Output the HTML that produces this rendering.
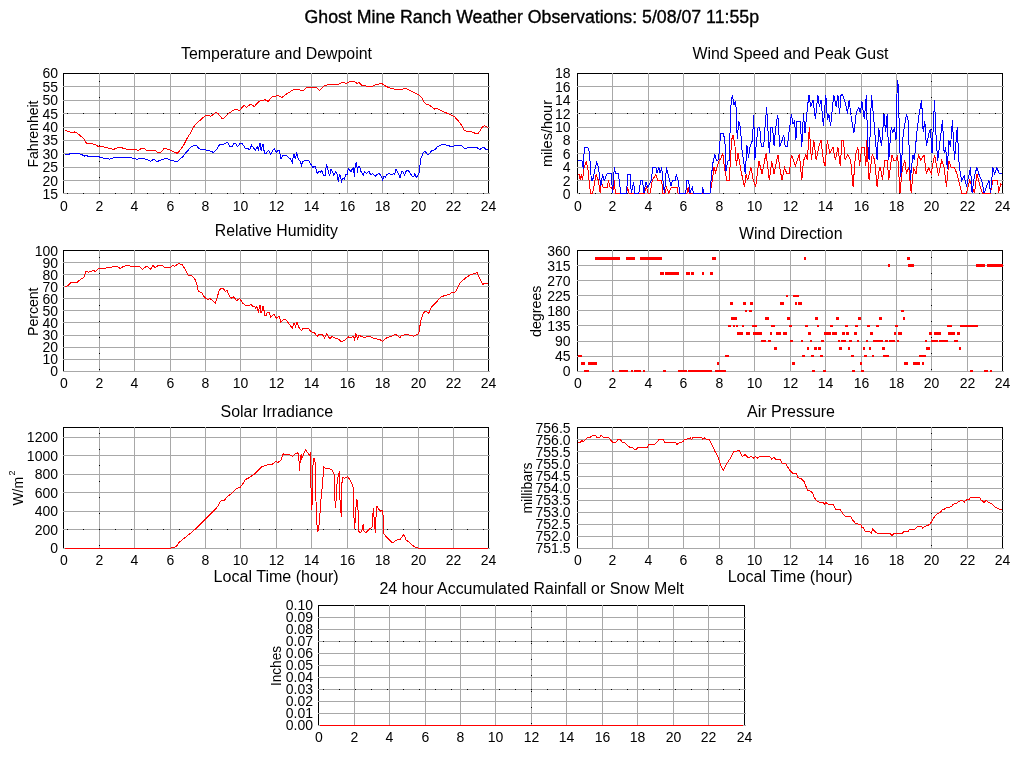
<!DOCTYPE html>
<html><head><meta charset="utf-8"><title>Ghost Mine Ranch Weather Observations</title>
<style>html,body{margin:0;padding:0;background:#fff;width:1024px;height:768px;overflow:hidden}svg{display:block}</style>
</head><body>
<svg width="1024" height="768" viewBox="0 0 1024 768" shape-rendering="crispEdges" font-family="'Liberation Sans', Arial, Helvetica, sans-serif" fill="#000">
<rect width="1024" height="768" fill="#fff"/>
<text x="304.5" y="23" font-size="18" text-anchor="start" textLength="454.5" lengthAdjust="spacingAndGlyphs" stroke="#000" stroke-width="0.35">Ghost Mine Ranch Weather Observations: 5/08/07 11:55p</text>
<text x="181" y="59" font-size="16" text-anchor="start" textLength="191" lengthAdjust="spacingAndGlyphs">Temperature and Dewpoint</text>
<text x="692.5" y="59" font-size="16" text-anchor="start" textLength="196" lengthAdjust="spacingAndGlyphs">Wind Speed and Peak Gust</text>
<text x="214.8" y="236" font-size="16" text-anchor="start" textLength="123" lengthAdjust="spacingAndGlyphs">Relative Humidity</text>
<text x="739" y="239" font-size="16" text-anchor="start" textLength="103.5" lengthAdjust="spacingAndGlyphs">Wind Direction</text>
<text x="220.5" y="417" font-size="16" text-anchor="start" textLength="112.5" lengthAdjust="spacingAndGlyphs">Solar Irradiance</text>
<text x="747" y="417" font-size="16" text-anchor="start" textLength="88" lengthAdjust="spacingAndGlyphs">Air Pressure</text>
<text x="379.5" y="594" font-size="16" text-anchor="start" textLength="304.5" lengthAdjust="spacingAndGlyphs">24 hour Accumulated Rainfall or Snow Melt</text>
<text x="213.6" y="582" font-size="16" text-anchor="start" textLength="125" lengthAdjust="spacingAndGlyphs">Local Time (hour)</text>
<text x="727.7" y="582" font-size="16" text-anchor="start" textLength="125" lengthAdjust="spacingAndGlyphs">Local Time (hour)</text>
<text transform="translate(37.5,167.5) rotate(-90)" font-size="14" textLength="67" lengthAdjust="spacingAndGlyphs">Fahrenheit</text>
<text transform="translate(552.3,167) rotate(-90)" font-size="14" textLength="67" lengthAdjust="spacingAndGlyphs">miles/hour</text>
<text transform="translate(37.5,336) rotate(-90)" font-size="14" textLength="48.5" lengthAdjust="spacingAndGlyphs">Percent</text>
<text transform="translate(541,337) rotate(-90)" font-size="14" textLength="51.5" lengthAdjust="spacingAndGlyphs">degrees</text>
<text transform="translate(23,505.5) rotate(-90)" font-size="14" textLength="28.5" lengthAdjust="spacingAndGlyphs">W/m</text>
<text transform="translate(15,475.5) rotate(-90)" font-size="9">2</text>
<text transform="translate(532,513.5) rotate(-90)" font-size="14" textLength="51" lengthAdjust="spacingAndGlyphs">millibars</text>
<text transform="translate(281,686) rotate(-90)" font-size="14" textLength="40" lengthAdjust="spacingAndGlyphs">Inches</text>
<path d="M63 73.5H489M63.5 73V193M488.5 73V193" stroke="#000" stroke-width="1" fill="none"/>
<path d="M99.5 73V194M134.5 73V194M170.5 73V194M205.5 73V194M240.5 73V194M276.5 73V194M311.5 73V194M347.5 73V194M382.5 73V194M418.5 73V194M453.5 73V194M63 86.5H490M63 100.5H490M63 113.5H490M63 127.5H490M63 140.5H490M63 153.5H490M63 167.5H490M63 180.5H490M63 193.5H490" stroke="#a8a8a8" stroke-width="1" fill="none"/>
<path d="M99 81h1M99 97h1M99 113h1M99 129h1M99 145h1M99 161h1M99 177h1M99 193h1" stroke="#000" stroke-width="1" transform="translate(0,0.5)"/>
<path d="M67 113.5h1M83 113.5h1M99 113.5h1M115 113.5h1M131 113.5h1M147 113.5h1M163 113.5h1M179 113.5h1M195 113.5h1M211 113.5h1M227 113.5h1M243 113.5h1M259 113.5h1M275 113.5h1M291 113.5h1M307 113.5h1M323 113.5h1M339 113.5h1M355 113.5h1M371 113.5h1M387 113.5h1M403 113.5h1M419 113.5h1M435 113.5h1M451 113.5h1M467 113.5h1M483 113.5h1" stroke="#000" stroke-width="1"/>
<path d="M67 193.5h1M83 193.5h1M99 193.5h1M115 193.5h1M131 193.5h1M147 193.5h1M163 193.5h1M179 193.5h1M195 193.5h1M211 193.5h1M227 193.5h1M243 193.5h1M259 193.5h1M275 193.5h1M291 193.5h1M307 193.5h1M323 193.5h1M339 193.5h1M355 193.5h1M371 193.5h1M387 193.5h1M403 193.5h1M419 193.5h1M435 193.5h1M451 193.5h1M467 193.5h1M483 193.5h1" stroke="#000" stroke-width="1"/>
<text x="58" y="77.5" font-size="14" text-anchor="end" >60</text>
<text x="58" y="91.5" font-size="14" text-anchor="end" >55</text>
<text x="58" y="104.5" font-size="14" text-anchor="end" >50</text>
<text x="58" y="118.5" font-size="14" text-anchor="end" >45</text>
<text x="58" y="131.5" font-size="14" text-anchor="end" >40</text>
<text x="58" y="144.5" font-size="14" text-anchor="end" >35</text>
<text x="58" y="158.5" font-size="14" text-anchor="end" >30</text>
<text x="58" y="171.5" font-size="14" text-anchor="end" >25</text>
<text x="58" y="185.5" font-size="14" text-anchor="end" >20</text>
<text x="58" y="198.5" font-size="14" text-anchor="end" >15</text>
<text x="64" y="210.5" font-size="14" text-anchor="middle" >0</text>
<text x="99.5" y="210.5" font-size="14" text-anchor="middle" >2</text>
<text x="134.5" y="210.5" font-size="14" text-anchor="middle" >4</text>
<text x="170.5" y="210.5" font-size="14" text-anchor="middle" >6</text>
<text x="205.5" y="210.5" font-size="14" text-anchor="middle" >8</text>
<text x="240.5" y="210.5" font-size="14" text-anchor="middle" >10</text>
<text x="276.5" y="210.5" font-size="14" text-anchor="middle" >12</text>
<text x="311.5" y="210.5" font-size="14" text-anchor="middle" >14</text>
<text x="347.5" y="210.5" font-size="14" text-anchor="middle" >16</text>
<text x="382.5" y="210.5" font-size="14" text-anchor="middle" >18</text>
<text x="418.5" y="210.5" font-size="14" text-anchor="middle" >20</text>
<text x="453.5" y="210.5" font-size="14" text-anchor="middle" >22</text>
<text x="488.5" y="210.5" font-size="14" text-anchor="middle" >24</text>
<path d="M577 73.5H1003M577.5 73V193M1002.5 73V193" stroke="#000" stroke-width="1" fill="none"/>
<path d="M612.5 73V194M648.5 73V194M683.5 73V194M719.5 73V194M754.5 73V194M790.5 73V194M825.5 73V194M861.5 73V194M896.5 73V194M931.5 73V194M967.5 73V194M577 86.5H1004M577 100.5H1004M577 113.5H1004M577 127.5H1004M577 140.5H1004M577 153.5H1004M577 167.5H1004M577 180.5H1004M577 193.5H1004" stroke="#a8a8a8" stroke-width="1" fill="none"/>
<path d="M931 81h1M931 97h1M931 113h1M931 129h1M931 145h1M931 161h1M931 177h1M931 193h1" stroke="#000" stroke-width="1" transform="translate(0,0.5)"/>
<path d="M579 113.5h1M595 113.5h1M611 113.5h1M627 113.5h1M643 113.5h1M659 113.5h1M675 113.5h1M691 113.5h1M707 113.5h1M723 113.5h1M739 113.5h1M755 113.5h1M771 113.5h1M787 113.5h1M803 113.5h1M819 113.5h1M835 113.5h1M851 113.5h1M867 113.5h1M883 113.5h1M899 113.5h1M915 113.5h1M931 113.5h1M947 113.5h1M963 113.5h1M979 113.5h1M995 113.5h1" stroke="#000" stroke-width="1"/>
<path d="M579 193.5h1M595 193.5h1M611 193.5h1M627 193.5h1M643 193.5h1M659 193.5h1M675 193.5h1M691 193.5h1M707 193.5h1M723 193.5h1M739 193.5h1M755 193.5h1M771 193.5h1M787 193.5h1M803 193.5h1M819 193.5h1M835 193.5h1M851 193.5h1M867 193.5h1M883 193.5h1M899 193.5h1M915 193.5h1M931 193.5h1M947 193.5h1M963 193.5h1M979 193.5h1M995 193.5h1" stroke="#000" stroke-width="1"/>
<text x="570.6" y="77.5" font-size="14" text-anchor="end" >18</text>
<text x="570.6" y="91.5" font-size="14" text-anchor="end" >16</text>
<text x="570.6" y="104.5" font-size="14" text-anchor="end" >14</text>
<text x="570.6" y="118.5" font-size="14" text-anchor="end" >12</text>
<text x="570.6" y="131.5" font-size="14" text-anchor="end" >10</text>
<text x="570.6" y="144.5" font-size="14" text-anchor="end" >8</text>
<text x="570.6" y="158.5" font-size="14" text-anchor="end" >6</text>
<text x="570.6" y="171.5" font-size="14" text-anchor="end" >4</text>
<text x="570.6" y="185.5" font-size="14" text-anchor="end" >2</text>
<text x="570.6" y="198.5" font-size="14" text-anchor="end" >0</text>
<text x="578" y="210.5" font-size="14" text-anchor="middle" >0</text>
<text x="612.5" y="210.5" font-size="14" text-anchor="middle" >2</text>
<text x="648.5" y="210.5" font-size="14" text-anchor="middle" >4</text>
<text x="683.5" y="210.5" font-size="14" text-anchor="middle" >6</text>
<text x="719.5" y="210.5" font-size="14" text-anchor="middle" >8</text>
<text x="754.5" y="210.5" font-size="14" text-anchor="middle" >10</text>
<text x="790.5" y="210.5" font-size="14" text-anchor="middle" >12</text>
<text x="825.5" y="210.5" font-size="14" text-anchor="middle" >14</text>
<text x="861.5" y="210.5" font-size="14" text-anchor="middle" >16</text>
<text x="896.5" y="210.5" font-size="14" text-anchor="middle" >18</text>
<text x="931.5" y="210.5" font-size="14" text-anchor="middle" >20</text>
<text x="967.5" y="210.5" font-size="14" text-anchor="middle" >22</text>
<text x="1002.5" y="210.5" font-size="14" text-anchor="middle" >24</text>
<path d="M63 250.5H489M63.5 250V371M488.5 250V371" stroke="#000" stroke-width="1" fill="none"/>
<path d="M99.5 250V372M134.5 250V372M170.5 250V372M205.5 250V372M240.5 250V372M276.5 250V372M311.5 250V372M347.5 250V372M382.5 250V372M418.5 250V372M453.5 250V372M63 262.5H490M63 274.5H490M63 286.5H490M63 298.5H490M63 310.5H490M63 322.5H490M63 335.5H490M63 347.5H490M63 359.5H490M63 371.5H490" stroke="#a8a8a8" stroke-width="1" fill="none"/>
<path d="M99 257h1M99 273h1M99 289h1M99 305h1M99 321h1M99 337h1M99 353h1M99 369h1" stroke="#000" stroke-width="1" transform="translate(0,0.5)"/>
<text x="58" y="255.5" font-size="14" text-anchor="end" >100</text>
<text x="58" y="267.5" font-size="14" text-anchor="end" >90</text>
<text x="58" y="279.5" font-size="14" text-anchor="end" >80</text>
<text x="58" y="291.5" font-size="14" text-anchor="end" >70</text>
<text x="58" y="303.5" font-size="14" text-anchor="end" >60</text>
<text x="58" y="315.5" font-size="14" text-anchor="end" >50</text>
<text x="58" y="327.5" font-size="14" text-anchor="end" >40</text>
<text x="58" y="339.5" font-size="14" text-anchor="end" >30</text>
<text x="58" y="351.5" font-size="14" text-anchor="end" >20</text>
<text x="58" y="363.5" font-size="14" text-anchor="end" >10</text>
<text x="58" y="375.5" font-size="14" text-anchor="end" >0</text>
<text x="64" y="387.5" font-size="14" text-anchor="middle" >0</text>
<text x="99.5" y="387.5" font-size="14" text-anchor="middle" >2</text>
<text x="134.5" y="387.5" font-size="14" text-anchor="middle" >4</text>
<text x="170.5" y="387.5" font-size="14" text-anchor="middle" >6</text>
<text x="205.5" y="387.5" font-size="14" text-anchor="middle" >8</text>
<text x="240.5" y="387.5" font-size="14" text-anchor="middle" >10</text>
<text x="276.5" y="387.5" font-size="14" text-anchor="middle" >12</text>
<text x="311.5" y="387.5" font-size="14" text-anchor="middle" >14</text>
<text x="347.5" y="387.5" font-size="14" text-anchor="middle" >16</text>
<text x="382.5" y="387.5" font-size="14" text-anchor="middle" >18</text>
<text x="418.5" y="387.5" font-size="14" text-anchor="middle" >20</text>
<text x="453.5" y="387.5" font-size="14" text-anchor="middle" >22</text>
<text x="488.5" y="387.5" font-size="14" text-anchor="middle" >24</text>
<path d="M577 250.5H1003M577.5 250V371M1002.5 250V371" stroke="#000" stroke-width="1" fill="none"/>
<path d="M612.5 250V372M648.5 250V372M683.5 250V372M719.5 250V372M754.5 250V372M790.5 250V372M825.5 250V372M861.5 250V372M896.5 250V372M931.5 250V372M967.5 250V372M577 265.5H1004M577 280.5H1004M577 295.5H1004M577 310.5H1004M577 325.5H1004M577 341.5H1004M577 356.5H1004M577 371.5H1004" stroke="#a8a8a8" stroke-width="1" fill="none"/>
<path d="M931 257h1M931 273h1M931 289h1M931 305h1M931 321h1M931 337h1M931 353h1M931 369h1" stroke="#000" stroke-width="1" transform="translate(0,0.5)"/>
<text x="570.6" y="255.5" font-size="14" text-anchor="end" >360</text>
<text x="570.6" y="270.5" font-size="14" text-anchor="end" >315</text>
<text x="570.6" y="285.5" font-size="14" text-anchor="end" >270</text>
<text x="570.6" y="300.5" font-size="14" text-anchor="end" >225</text>
<text x="570.6" y="315.5" font-size="14" text-anchor="end" >180</text>
<text x="570.6" y="330.5" font-size="14" text-anchor="end" >135</text>
<text x="570.6" y="345.5" font-size="14" text-anchor="end" >90</text>
<text x="570.6" y="360.5" font-size="14" text-anchor="end" >45</text>
<text x="570.6" y="375.5" font-size="14" text-anchor="end" >0</text>
<text x="578" y="387.5" font-size="14" text-anchor="middle" >0</text>
<text x="612.5" y="387.5" font-size="14" text-anchor="middle" >2</text>
<text x="648.5" y="387.5" font-size="14" text-anchor="middle" >4</text>
<text x="683.5" y="387.5" font-size="14" text-anchor="middle" >6</text>
<text x="719.5" y="387.5" font-size="14" text-anchor="middle" >8</text>
<text x="754.5" y="387.5" font-size="14" text-anchor="middle" >10</text>
<text x="790.5" y="387.5" font-size="14" text-anchor="middle" >12</text>
<text x="825.5" y="387.5" font-size="14" text-anchor="middle" >14</text>
<text x="861.5" y="387.5" font-size="14" text-anchor="middle" >16</text>
<text x="896.5" y="387.5" font-size="14" text-anchor="middle" >18</text>
<text x="931.5" y="387.5" font-size="14" text-anchor="middle" >20</text>
<text x="967.5" y="387.5" font-size="14" text-anchor="middle" >22</text>
<text x="1002.5" y="387.5" font-size="14" text-anchor="middle" >24</text>
<path d="M63 427.5H489M63.5 427V548M488.5 427V548" stroke="#000" stroke-width="1" fill="none"/>
<path d="M99.5 427V549M134.5 427V549M170.5 427V549M205.5 427V549M240.5 427V549M276.5 427V549M311.5 427V549M347.5 427V549M382.5 427V549M418.5 427V549M453.5 427V549M63 437.5H490M63 455.5H490M63 474.5H490M63 492.5H490M63 511.5H490M63 529.5H490M63 548.5H490" stroke="#a8a8a8" stroke-width="1" fill="none"/>
<path d="M99 433h1M99 449h1M99 465h1M99 481h1M99 497h1M99 513h1M99 529h1M99 545h1" stroke="#000" stroke-width="1" transform="translate(0,0.5)"/>
<path d="M67 529.5h1M83 529.5h1M99 529.5h1M115 529.5h1M131 529.5h1M147 529.5h1M163 529.5h1M179 529.5h1M195 529.5h1M211 529.5h1M227 529.5h1M243 529.5h1M259 529.5h1M275 529.5h1M291 529.5h1M307 529.5h1M323 529.5h1M339 529.5h1M355 529.5h1M371 529.5h1M387 529.5h1M403 529.5h1M419 529.5h1M435 529.5h1M451 529.5h1M467 529.5h1M483 529.5h1" stroke="#000" stroke-width="1"/>
<text x="58" y="441.5" font-size="14" text-anchor="end" >1200</text>
<text x="58" y="460.5" font-size="14" text-anchor="end" >1000</text>
<text x="58" y="478.5" font-size="14" text-anchor="end" >800</text>
<text x="58" y="497.5" font-size="14" text-anchor="end" >600</text>
<text x="58" y="515.5" font-size="14" text-anchor="end" >400</text>
<text x="58" y="534.5" font-size="14" text-anchor="end" >200</text>
<text x="58" y="552.5" font-size="14" text-anchor="end" >0</text>
<text x="64" y="564.5" font-size="14" text-anchor="middle" >0</text>
<text x="99.5" y="564.5" font-size="14" text-anchor="middle" >2</text>
<text x="134.5" y="564.5" font-size="14" text-anchor="middle" >4</text>
<text x="170.5" y="564.5" font-size="14" text-anchor="middle" >6</text>
<text x="205.5" y="564.5" font-size="14" text-anchor="middle" >8</text>
<text x="240.5" y="564.5" font-size="14" text-anchor="middle" >10</text>
<text x="276.5" y="564.5" font-size="14" text-anchor="middle" >12</text>
<text x="311.5" y="564.5" font-size="14" text-anchor="middle" >14</text>
<text x="347.5" y="564.5" font-size="14" text-anchor="middle" >16</text>
<text x="382.5" y="564.5" font-size="14" text-anchor="middle" >18</text>
<text x="418.5" y="564.5" font-size="14" text-anchor="middle" >20</text>
<text x="453.5" y="564.5" font-size="14" text-anchor="middle" >22</text>
<text x="488.5" y="564.5" font-size="14" text-anchor="middle" >24</text>
<path d="M577 427.5H1003M577.5 427V548M1002.5 427V548" stroke="#000" stroke-width="1" fill="none"/>
<path d="M612.5 427V549M648.5 427V549M683.5 427V549M719.5 427V549M754.5 427V549M790.5 427V549M825.5 427V549M861.5 427V549M896.5 427V549M931.5 427V549M967.5 427V549M577 439.5H1004M577 451.5H1004M577 463.5H1004M577 476.5H1004M577 488.5H1004M577 500.5H1004M577 512.5H1004M577 524.5H1004M577 536.5H1004M577 548.5H1004" stroke="#a8a8a8" stroke-width="1" fill="none"/>
<path d="M931 433h1M931 449h1M931 465h1M931 481h1M931 497h1M931 513h1M931 529h1M931 545h1" stroke="#000" stroke-width="1" transform="translate(0,0.5)"/>
<text x="570.6" y="432.5" font-size="14" text-anchor="end" >756.5</text>
<text x="570.6" y="444.5" font-size="14" text-anchor="end" >756.0</text>
<text x="570.6" y="456.5" font-size="14" text-anchor="end" >755.5</text>
<text x="570.6" y="468.5" font-size="14" text-anchor="end" >755.0</text>
<text x="570.6" y="480.5" font-size="14" text-anchor="end" >754.5</text>
<text x="570.6" y="492.5" font-size="14" text-anchor="end" >754.0</text>
<text x="570.6" y="504.5" font-size="14" text-anchor="end" >753.5</text>
<text x="570.6" y="516.5" font-size="14" text-anchor="end" >753.0</text>
<text x="570.6" y="528.5" font-size="14" text-anchor="end" >752.5</text>
<text x="570.6" y="540.5" font-size="14" text-anchor="end" >752.0</text>
<text x="570.6" y="552.5" font-size="14" text-anchor="end" >751.5</text>
<text x="578" y="564.5" font-size="14" text-anchor="middle" >0</text>
<text x="612.5" y="564.5" font-size="14" text-anchor="middle" >2</text>
<text x="648.5" y="564.5" font-size="14" text-anchor="middle" >4</text>
<text x="683.5" y="564.5" font-size="14" text-anchor="middle" >6</text>
<text x="719.5" y="564.5" font-size="14" text-anchor="middle" >8</text>
<text x="754.5" y="564.5" font-size="14" text-anchor="middle" >10</text>
<text x="790.5" y="564.5" font-size="14" text-anchor="middle" >12</text>
<text x="825.5" y="564.5" font-size="14" text-anchor="middle" >14</text>
<text x="861.5" y="564.5" font-size="14" text-anchor="middle" >16</text>
<text x="896.5" y="564.5" font-size="14" text-anchor="middle" >18</text>
<text x="931.5" y="564.5" font-size="14" text-anchor="middle" >20</text>
<text x="967.5" y="564.5" font-size="14" text-anchor="middle" >22</text>
<text x="1002.5" y="564.5" font-size="14" text-anchor="middle" >24</text>
<path d="M318 605.5H745M318.5 605V725M744.5 605V725" stroke="#000" stroke-width="1" fill="none"/>
<path d="M354.5 605V726M389.5 605V726M425.5 605V726M460.5 605V726M495.5 605V726M531.5 605V726M566.5 605V726M602.5 605V726M637.5 605V726M673.5 605V726M708.5 605V726M318 617.5H746M318 629.5H746M318 641.5H746M318 653.5H746M318 665.5H746M318 677.5H746M318 689.5H746M318 701.5H746M318 713.5H746M318 725.5H746" stroke="#a8a8a8" stroke-width="1" fill="none"/>
<path d="M531 611h1M531 627h1M531 643h1M531 659h1M531 675h1M531 691h1M531 707h1M531 723h1" stroke="#000" stroke-width="1" transform="translate(0,0.5)"/>
<path d="M323 641.5h1M339 641.5h1M355 641.5h1M371 641.5h1M387 641.5h1M403 641.5h1M419 641.5h1M435 641.5h1M451 641.5h1M467 641.5h1M483 641.5h1M499 641.5h1M515 641.5h1M531 641.5h1M547 641.5h1M563 641.5h1M579 641.5h1M595 641.5h1M611 641.5h1M627 641.5h1M643 641.5h1M659 641.5h1M675 641.5h1M691 641.5h1M707 641.5h1M723 641.5h1M739 641.5h1" stroke="#000" stroke-width="1"/>
<path d="M323 689.5h1M339 689.5h1M355 689.5h1M371 689.5h1M387 689.5h1M403 689.5h1M419 689.5h1M435 689.5h1M451 689.5h1M467 689.5h1M483 689.5h1M499 689.5h1M515 689.5h1M531 689.5h1M547 689.5h1M563 689.5h1M579 689.5h1M595 689.5h1M611 689.5h1M627 689.5h1M643 689.5h1M659 689.5h1M675 689.5h1M691 689.5h1M707 689.5h1M723 689.5h1M739 689.5h1" stroke="#000" stroke-width="1"/>
<text x="313" y="609.5" font-size="14" text-anchor="end" >0.10</text>
<text x="313" y="621.5" font-size="14" text-anchor="end" >0.09</text>
<text x="313" y="633.5" font-size="14" text-anchor="end" >0.08</text>
<text x="313" y="645.5" font-size="14" text-anchor="end" >0.07</text>
<text x="313" y="657.5" font-size="14" text-anchor="end" >0.06</text>
<text x="313" y="669.5" font-size="14" text-anchor="end" >0.05</text>
<text x="313" y="681.5" font-size="14" text-anchor="end" >0.04</text>
<text x="313" y="693.5" font-size="14" text-anchor="end" >0.03</text>
<text x="313" y="705.5" font-size="14" text-anchor="end" >0.02</text>
<text x="313" y="717.5" font-size="14" text-anchor="end" >0.01</text>
<text x="313" y="729.5" font-size="14" text-anchor="end" >0.00</text>
<text x="319" y="741.5" font-size="14" text-anchor="middle" >0</text>
<text x="354.5" y="741.5" font-size="14" text-anchor="middle" >2</text>
<text x="389.5" y="741.5" font-size="14" text-anchor="middle" >4</text>
<text x="425.5" y="741.5" font-size="14" text-anchor="middle" >6</text>
<text x="460.5" y="741.5" font-size="14" text-anchor="middle" >8</text>
<text x="495.5" y="741.5" font-size="14" text-anchor="middle" >10</text>
<text x="531.5" y="741.5" font-size="14" text-anchor="middle" >12</text>
<text x="566.5" y="741.5" font-size="14" text-anchor="middle" >14</text>
<text x="602.5" y="741.5" font-size="14" text-anchor="middle" >16</text>
<text x="637.5" y="741.5" font-size="14" text-anchor="middle" >18</text>
<text x="673.5" y="741.5" font-size="14" text-anchor="middle" >20</text>
<text x="708.5" y="741.5" font-size="14" text-anchor="middle" >22</text>
<text x="744.5" y="741.5" font-size="14" text-anchor="middle" >24</text>
<g shape-rendering="crispEdges">
<polyline points="64.5,130.5 65.3,130.5 69.4,131.9 72.3,132.8 74.6,132 77.6,133.4 79.9,135.5 83.4,138.1 86.4,143.1 90.5,143.6 95.2,144.5 98.1,146.3 102.2,146.6 108,148 113.3,149.5 118,147.5 121,147.5 126.2,149.2 135,149.5 137.9,150.4 142,148.3 144.4,148.5 146.7,150.4 152.6,151 155,150.4 157.3,152.4 160.8,152.4 164.3,148.3 169,149.5 174.3,152.2 177.3,153.3 180.2,150.1 183.5,145.5 186.7,139 190,133.8 193.2,127.3 196.5,123.4 201,119.5 205.6,115.3 208.2,115.3 210.8,116.2 216,112.3 218,113.6 221.9,118.4 223.8,118.2 228.4,113.6 232.3,111 235.5,109.3 239.5,110.4 244,105.4 246.6,107.5 250.5,104.1 254.4,106.5 259,101.3 264.8,99.7 268.1,101.3 272,97.1 277.9,95.4 281.8,97.6 286.3,94.1 289.6,92.1 292,90.5 294.7,89.5 297.8,89.5 300.9,90.3 304.1,90 307.2,87.2 311.9,87.2 315.8,87.2 319.7,90.3 324.4,85.9 329.1,84.1 339.2,84.1 342.3,82 346.3,83.3 350.2,81.3 354.1,81.7 357.2,83.3 358.8,82.5 361.9,85.6 366.6,86.1 372.8,86.1 377.5,84.1 382.2,83.8 386.1,86.4 390,88 396.3,89.5 402.5,89.2 405.5,88.4 409.4,90.3 414.1,92.7 418.8,95 421.9,98.1 424.2,102.5 426.6,104.4 429.7,105.2 434.4,109.1 436.7,108 441.4,110.9 444.5,112.2 450,114.5 454.7,116.9 458.6,121.3 461.7,125.5 464.1,130.2 467.2,131.3 471.1,131.4 475,133.3 478.1,133.3 480.5,130.2 481.3,127.8 484.4,125.5 486.7,127 488,128.3" fill="none" stroke="#f00" stroke-width="1" />
<polyline points="64.5,154.1 69.4,154.1 71.1,153.3 78.2,153.3 81.1,154.3 84.6,156 86.4,155.3 88.1,156.3 94,156.8 98.1,156.3 100.4,157.4 103.4,158.1 108,158.4 109.8,159.2 112.2,158.4 115.1,157.4 124.5,157.4 126.2,158 128.6,157.2 132.7,158.2 137.3,159.2 142,158.2 146.7,159.5 150.8,161.2 153.8,159.2 156.7,161.5 159.6,160.7 163.1,159.2 166.1,158.2 169.6,159.8 174.8,161.2 177.6,161.4 182.8,156.6 186.7,151.8 190.6,147.5 193.9,145.3 196.5,145.5 199.1,148.8 205,149.7 208.9,150.7 213.4,152.3 216.7,149.4 219.9,144 223.8,144.2 227.7,142.3 229.7,146.2 230,146.2 232.4,146.2 233.6,143.5 235.4,143.5 237.6,146.5 239.7,143.8 242.4,143.8 245.1,148 247.6,148.3 248.8,149.4 250,148.9 251.5,145.3 255.4,150.4 256.6,147.4 257.5,146.5 258.5,151.3 259.4,144.1 260.3,143.5 260.9,149.5 261.5,150.4 262.4,144.4 263.3,144.4 263.6,149.2 264.8,153.2 266.3,153.2 268.1,150.6 269.3,151.3 270.6,154.4 272.4,151 274.5,148.4 276.3,152.6 277.5,150.6 279.6,150.6 280.5,158.3 281.5,158.3 282.7,155.6 284.8,155.3 286.6,155.9 288.4,157.4 290,158.5 292.3,162.6 293.5,154.4 294.4,154.4 295.3,159.4 296.7,152.3 297.6,157.3 298.8,159.9 300.3,161.4 301.4,165.5 302.6,161.7 304.6,160.8 305.5,160.3 308.7,160.3 310.5,163.7 312,166.1 313.1,167.6 314,166.4 315.2,166.7 317.2,173.4 319.3,171.1 320.5,172.2 321.9,170.5 322.8,173.1 323.7,175.5 325.4,175.5 326.3,164.3 327.2,166.7 328.4,172 329.5,176.3 331,169 332.2,171.1 333.6,174.9 334.5,174.3 335.4,171.4 336.9,173.7 338.3,181.6 339.5,174.6 340.4,176 341.6,182.5 342.4,178.4 344.5,179 345.9,174.6 347.1,174.9 348.3,168.4 349.4,170.2 351.3,171.6 352.3,168.7 353.4,167.6 354.5,177.4 355.2,164.4 355.9,163 356.7,162.6 357.4,173.1 358.1,166.6 359.6,166.9 361,171.6 363.2,175.2 364.6,171.6 366.1,173.4 369,171.6 370.8,174.9 372.6,173.4 375.1,176.3 376.9,174.5 379.4,173.6 381.2,176 382.7,179.9 384.1,176 385.6,177 386.7,174.5 389.5,173.4 391.4,174.9 393.2,173.8 394.6,174.1 396,169.5 398.6,173.8 400,178.1 401.5,172 402.9,171.6 404.4,175.2 406.5,170.5 408.3,170.5 412.3,176.3 413.8,176.3 414.8,173.8 416.3,177.4 418.8,174.1 419.5,169.8 420.6,159.3 421.7,156.8 422.7,153.6 425,151.3 428.1,155.2 432,150.5 435.2,149.7 437.5,146.6 441.4,144.7 446.1,145 451.6,146.6 454.7,145.8 458.6,145.5 461.7,145.8 464.8,148.4 470.3,147.3 476.6,147.3 479.7,149.4 483.6,147.3 485.9,149.4 488,149.4" fill="none" stroke="#00f" stroke-width="1" />
<polyline points="578,174.5 579.1,174.5 580.3,180.4 581.4,174.5 582.6,180.4 583.8,168.7 586.1,161.4 587.9,168.7 589.6,186.3 590.8,193.3 592.6,193.3 596.1,174.5 598.4,180.4 600.2,193.3 601.4,180.4 602.5,186.3 603.7,187.4 607.2,187.4 608.4,180.4 610.2,187.4 611.9,187.4 612.5,193.3 614.3,180.4 615.4,193.3 626.6,193.3 627.7,187.4 629,193.3 644.1,193.3 646.5,187.4 648.2,193.3 650,193.3 652.3,180.4 655.9,174.5 657.6,180.4 661.7,180.4 662.9,193.3 665,193.3 666.4,187.4 668.8,193.3 671.1,187.4 677,187.4 678.1,193.3 687,193.3 688.1,187.4 689.3,193.3 710,193.1 711.6,185.1 714,167.5 715.6,172.3 718.8,161.1 721.2,157.9 722.8,153.1 724.4,167.5 726.8,180.3 729.2,180.3 731.6,140.3 732.9,134.7 734.8,143.5 736.4,165.9 738,153.1 740.4,167.5 742,175.5 744.5,186.7 746.1,173.9 747.7,180.3 750.9,167.5 753.3,180.3 755.7,186.7 758.9,161.1 762.1,173.9 764.5,161.1 766.1,153.1 769.3,180.3 771.7,161.1 774.1,173.9 776.5,161.1 778.1,154.7 779.7,167.5 782.1,180.3 784.5,167.5 786.9,173.9 789.3,173.1 791.4,154.7 793.8,161.1 795.4,165.9 797,161.1 799.4,153.9 801.8,180.3 803.4,161.1 805.8,154.7 807.4,160.3 809.3,127.5 811.4,160.3 813.8,140.3 816.2,160.3 818.6,147.5 821,140.3 823.4,160.3 825,165.9 827.4,140.3 829.8,153.1 833,147.5 835.4,160.3 837.9,147.5 840.3,165.9 841.9,140.3 843.5,140.3 845.1,160.3 847.5,154.7 850.7,160.3 853.1,186.7 855.5,154.7 857.9,147.5 859.5,165.9 861.9,147.5 864.3,147.5 865.9,165.9 866.7,140.3 869.1,180.3 872.3,153.9 874.7,160.3 877.1,186.7 879.5,167.5 880.5,167.5 882.4,179.5 884.8,160.3 887.2,160.3 888.8,179.5 892,154.7 893.6,160.3 896,160.3 897.6,154.7 900,193.1 902.4,167.5 904.8,160.3 906.4,173.1 908.8,167.5 911.2,193.1 913.6,167.5 916,173.9 918.4,154.7 920.8,160.3 924,154.7 926.4,173.9 928.8,167.5 931.2,173.9 934.5,154.7 936.9,167.5 938.5,175.5 941.7,160.3 944.1,167.5 946.5,186.7 948.9,161.1 951.3,167.5 954.5,167.5 956.9,173.9 961.7,193.1 966.5,193.1 969.7,180.3 972.1,186.7 974.5,193.1 976.9,173.9 980.1,186.7 982.5,193.1 990.5,193.1 992.9,180.3 997.7,180.3 998.5,193.1 1000.9,183.5 1002,185.1" fill="none" stroke="#f00" stroke-width="1" />
<polyline points="578,160.5 582,160.7 583.2,168.7 584.4,147.6 587.9,147.6 589.6,152.3 590.2,165.2 591.4,180.4 592.6,180.4 596.7,161.6 598.4,167.5 600.8,186.3 602.5,174.5 604.3,180.4 607.2,173.4 611.3,173.4 612.5,193.3 614.3,167.5 615.4,173.4 618.4,173.4 620.7,193.3 626.6,193.3 627.7,174.5 630.1,174.5 631.3,193.3 633.6,181.6 634.8,193.3 638.9,193.3 640.6,180.4 642.4,180.4 644.1,193.3 645.9,181.6 647.7,187.4 651.2,180.4 652.9,167.5 655.9,167.5 657,173.4 658.8,167.5 660,173.4 661.7,167.5 663.5,186.3 664.6,193.3 666.4,167.5 668.8,176.9 671.1,186.3 672.3,180.4 675.2,180.4 676.4,174.5 678.1,180.4 679.9,193.3 685.7,193.3 686.9,180.4 688.7,180.4 689.8,193.3 692.2,187.4 693.4,193.3 702,193.1 702.8,187.5 703.6,193.1 710,193.1 711.6,173.9 713.2,161.1 714.8,154.7 716.4,160.3 718,160.3 719.6,149.9 720.4,133.5 723.6,133.5 725.2,145.1 726,170.7 727.6,161.1 729.2,160.3 730.8,106.6 732.4,94.6 734,105 735.6,101 736.4,113 737.2,138.7 738.8,121 740.4,127.5 742,149.9 743.7,161.1 745.3,173.9 746.9,145.1 748.5,157.9 750.1,146.7 752.5,140.3 753.7,114.6 754.9,159.5 756.5,141.9 758.1,127.5 759.7,127.5 761.3,146.7 763.7,146.7 765,127.5 766.6,107.4 768.2,133.9 769.3,153.1 770.9,127.5 772.5,127.5 774.1,145.9 775.7,127.5 777.8,114.6 779.7,146.7 782.1,140.3 783.7,134.7 785.3,146.7 787.4,146.7 789,132.3 791.4,114.3 793,124.2 794.6,121 795.9,139.5 797,121 800.2,121 801.8,146.7 803.4,113.8 805,133.1 807.4,107.4 809,94.6 810.6,106.6 813,100.2 815.4,119.4 817.8,94.6 819.4,106.6 821,100.2 823.4,125.9 825.8,94.6 827.4,119.4 829,114.6 830.6,125.9 833.8,94.6 836.2,106.6 837.9,94.6 839.5,113.8 841.1,94.6 842.7,94.6 845.9,105 847.5,113.8 849.1,100.2 851.5,119.4 853.9,133.1 856.3,113 858.7,107.4 860.3,113 861.9,101 864.3,119.4 866.4,94.6 867.5,140.3 869.1,160.3 869.9,140.3 871.5,94.6 873.9,121 877.1,160.3 878.7,128.3 880.5,140 881.6,145.9 884,113.8 885.6,132.3 887.2,113.8 888.8,159.5 891.2,127.5 892.8,132.3 894.4,127.5 896,140.3 897.3,80.2 898.4,85.8 899.2,127.5 900.8,177.1 903.2,133.9 906.4,114.6 908,119.4 910.4,179.5 912.8,154.7 914.4,160.3 916.8,132.3 919.2,113.8 921.6,100.2 923.2,132.3 924.8,121 926.4,145.9 928.8,133.9 930.4,129 932,153.1 934.5,100.2 936.1,137.1 937.7,161.1 940.1,140.3 942.5,120.2 944.1,153.1 945.7,147.5 947.3,169.1 948.9,140.3 950.5,146.7 952.4,120.2 954.5,160.3 957.2,127.5 959.3,167.5 961.7,180.3 964.1,175.5 966.5,186.7 970.5,167.5 972.1,193.1 974.5,175.5 976.9,167.5 979.3,175.5 981.7,180.3 984.1,193.1 988.9,180.3 990.5,193.1 992.9,167.5 994.5,173.9 996.9,167.5 999.3,173.9 1002,173.9" fill="none" stroke="#00f" stroke-width="1" />
<polyline points="64.5,286.6 64.8,286.6 68.2,285.5 70.9,282.5 77.1,282.4 79.1,280.4 83.9,277.3 86,271.6 88.7,272.1 93.5,270.5 95.5,271.6 98.3,268.5 103.1,268.9 105.1,268.2 109.2,267.5 112,267.1 114.7,266.4 117.4,266.4 120.2,268.5 122.9,266.7 127,265.3 131.1,266.4 139.3,266.4 142.7,269.4 146.1,266.4 148.2,267.1 150.9,269.4 153,265.3 155,268 157.8,265.7 162.5,265.4 164.6,267.8 170.7,267.4 172.8,265.3 174.8,266.4 178.9,263.3 182.4,265 185.1,269.1 187.8,275 191.3,275.3 194.7,278.7 196.7,283.5 198.4,291.5 201.6,292.7 204.5,297.1 208.2,300 209.6,298.3 215.5,303 219.2,290.5 221.4,288.3 223.6,288.7 225,291.2 227.2,290.5 229.4,296.4 231.6,298.1 233.4,296.7 236.7,300.5 239.7,298.6 242.6,303 245.5,305.2 248.5,305.9 250,305.3 251,304.2 252.7,306.3 254.8,306.3 255.5,308.3 256.8,306.3 257.5,309.4 258.5,312.4 259.6,305.3 260.3,305.3 260.9,312.4 262,311.4 262.6,306.6 263.7,306.3 264.4,315.5 266.4,315.5 267.1,312.4 269.5,312.4 270.5,317.6 273.9,314.1 276.3,318.2 277.3,317.6 279.4,316.2 280.8,322.3 281.8,321.3 283.5,319.3 286.6,320.3 288.3,323 292.4,328.5 293.7,323.4 294.8,323.4 295.5,327.5 296.5,322.7 297.5,322.7 298.5,327.1 301.6,330.5 303,328.5 308.4,328.5 310.5,331.2 312.2,332.3 313.9,332.6 314.9,333.3 317.3,336.4 318.7,334.6 320,334.3 322.4,334.5 324.6,338.1 326.8,333.7 329.8,338.8 332,336.6 334.9,338.1 337.8,338.8 340,340.5 341.5,341.7 344.4,340.3 348.1,336.9 351,337.6 353.2,336.2 354.6,339.8 355.8,333.2 357.6,339.1 359,335.4 363.4,337.3 369.3,336.5 375.2,338.8 379.5,339.4 382.5,341.3 385.4,338.4 390.5,336.5 395.7,334.4 400.1,337.6 401.5,335.4 407.4,334.4 413.2,336.2 417.6,334.4 419.1,331.8 420.6,321.5 423.5,312.7 425.7,311 428.6,313.5 431.5,306.9 436.7,301.7 441.1,296.6 444,295.9 449.1,294.4 451.3,293 455.7,291.9 460.1,282.7 466,277.6 470.4,274.9 477,272.5 479.9,279 482.8,284.2 486.5,283.1 488,283.4" fill="none" stroke="#f00" stroke-width="1" />
<polyline points="64.5,548 170.9,548 174.8,547.2 176.4,546.4 178.8,542.8 182.7,539.4 189.7,533.9 195.2,529.2 205.3,519.1 216.3,508.1 218.6,505 220.2,501.9 221.7,500.3 224.1,500.6 226.4,497.5 228.8,495.6 231.9,493.3 236.6,488.6 240.5,487 242.8,483.9 245.2,479.7 249.1,477.7 253.8,474.5 258.4,470.3 261.6,466.7 266.3,465.2 272.5,464.1 275.6,461.3 278,462.5 281.1,460 283.4,453.4 285,455 289.7,454.7 292.6,456.3 295.2,454.1 297.8,452.4 298.9,458.2 299.4,470.6 300.2,460.2 301.1,454.3 301.7,458.9 303,456.3 304.1,453 305.6,450.2 307.6,452.4 309.5,455.4 310.2,454.1 310.8,478.4 311.5,510.3 312.1,503.8 312.8,468.6 313.4,458.9 314.5,458.2 315.4,465.4 316,501.2 316.7,522 317.6,531.1 318.6,529.8 319.7,518.1 320.6,503.2 321.9,490.1 323.2,475.2 323.6,466.7 325.2,468 329.1,468.6 331.7,469.7 334.3,474.5 334.9,499.2 335.6,508.4 336.9,484.3 338.2,475.8 339.5,471.3 340.1,505.1 341.4,516.8 342.1,477.8 342.7,477.5 344.7,478.4 347.5,476.5 350.1,480.1 353,486.4 353.7,511.4 354.5,528.9 355.2,521.6 356.4,499.5 357.4,501.2 358.1,511.4 358.8,531.1 360.3,532.6 361.8,531.1 363.2,524.3 364,531.1 366.1,532.6 369.8,528.6 372,527.5 373.4,508.2 374.2,519.4 374.9,528.2 375.6,532.6 376.3,506.3 377.8,507.3 380,511.1 382.2,510.7 383.2,515.8 383.6,533.3 385.8,536.5 391.6,542.3 393.8,542.3 396,540.3 400.4,539.1 403.3,534.8 404.8,536.2 406.2,540.3 409.1,542 412.1,545.2 416.4,547.6 418.6,548.2 488,548.2" fill="none" stroke="#f00" stroke-width="1" />
<polyline points="578,442.5 580.5,442.1 581.8,440.3 583.2,441.7 587.3,437.7 590,437.3 592.8,435.3 595.5,435.3 596.9,437.3 599.6,437.3 601,435.3 603,437.3 608.5,437.6 612.6,442.1 616,442.1 618.1,439.4 620.1,439.4 622.2,442.1 624.9,442.8 629,446.9 632.4,447.6 634.5,449.6 636.5,449.3 637.9,447.6 647.5,447.1 648.8,444.4 654.3,444.4 657,442.1 659.1,439.4 663.2,439.4 664.6,442.5 675.5,442.5 676.9,444.6 679.6,442.5 683,441.7 684.4,439.4 689.2,438.7 690.1,437.6 691.5,439.4 692.9,437.6 701.5,437.6 702.8,439.4 704.2,437.6 706.3,439.4 709.4,439.5 711.6,443.9 714.5,450.5 718.2,457.1 720.4,464.4 723.3,470.3 726.2,464.4 730.6,457.8 733.6,451.7 739.4,450.5 742.4,456.4 745.3,454.6 748.2,458.1 751.1,456.4 753.3,458.1 755.5,456.4 757.7,458.1 759.9,456.4 769.5,456.4 771.6,459 773.8,457.1 776,459.3 780.4,459.6 781.9,463 785.6,463.4 790,470.7 792.9,473.2 796.5,473.7 798,477.6 801.7,479.1 803.9,481.3 807.5,490.1 810.5,491.2 812.7,493 814.1,497.4 817.8,501.8 822.9,502.5 824.4,504.4 825.8,502.5 828.8,504.4 833.2,504.4 835.4,509.1 839.8,509.4 843.4,514.2 845.6,516.4 850.7,516.7 853,520.6 856.1,523.9 860.6,524.2 862.1,527.7 863.6,527.7 865.1,531.2 869.7,531.8 871.2,533.3 872.7,529.2 874.2,530.7 877.2,533.3 890.1,533.3 892.1,535.7 893.9,533.3 902.2,533.3 903.7,531.5 908.3,531.2 909.8,529.2 915.1,529.2 917.4,526.2 921.1,526.2 922.7,528.1 924.9,526.2 928,525.4 930.2,523.9 932.5,520.1 935.5,515.1 940.8,511.8 942.3,509.5 945.4,508.8 946.9,507.2 951.4,506.9 952.9,504.2 956,503.5 958.2,502 962,500.1 964.3,502.4 965.8,500.1 968.8,499.7 970.3,497.4 979.4,497.4 980.9,499.7 984,502.4 986.2,500.4 988.5,502.4 991.5,503.5 995.3,507.2 999.1,509.1 1002,509.5" fill="none" stroke="#f00" stroke-width="1" />
<path d="M320 725.5H743" stroke="#f00" stroke-width="1"/>
<path d="M595 257h25v3h-25zM626 257h9v3h-9zM640 257h22v3h-22zM712 257h4v3h-4zM804 257h2v3h-2zM907 257h3v3h-3zM888 264h2v3h-2zM908 264h6v3h-6zM976 264h9v3h-9zM987 264h16v3h-16zM660 272h4v3h-4zM665 272h14v3h-14zM686 272h4v3h-4zM691 272h3v3h-3zM702 272h2v3h-2zM710 272h3v3h-3zM786 295h2v2h-2zM793 295h6v2h-6zM730 302h3v3h-3zM743 302h3v3h-3zM750 302h3v3h-3zM780 302h4v3h-4zM795 302h2v3h-2zM798 302h4v3h-4zM745 310h2v2h-2zM749 310h3v2h-3zM901 310h3v2h-3zM731 317h6v3h-6zM765 317h4v3h-4zM787 317h3v3h-3zM815 317h3v3h-3zM836 317h3v3h-3zM858 317h3v3h-3zM879 317h3v3h-3zM903 317h2v3h-2zM728 325h3v2h-3zM733 325h2v2h-2zM736 325h2v2h-2zM742 325h2v2h-2zM752 325h5v2h-5zM771 325h4v2h-4zM789 325h3v2h-3zM805 325h3v2h-3zM817 325h2v2h-2zM830 325h3v2h-3zM845 325h3v2h-3zM855 325h3v2h-3zM867 325h3v2h-3zM876 325h3v2h-3zM895 325h3v2h-3zM947 325h5v2h-5zM960 325h18v2h-18zM737 332h6v3h-6zM746 332h4v3h-4zM753 332h9v3h-9zM770 332h2v3h-2zM776 332h5v3h-5zM783 332h4v3h-4zM808 332h3v3h-3zM824 332h7v3h-7zM832 332h5v3h-5zM842 332h3v3h-3zM846 332h3v3h-3zM854 332h3v3h-3zM870 332h3v3h-3zM894 332h2v3h-2zM898 332h4v3h-4zM929 332h3v3h-3zM934 332h7v3h-7zM948 332h7v3h-7zM957 332h3v3h-3zM761 340h5v2h-5zM768 340h3v2h-3zM790 340h3v2h-3zM801 340h2v2h-2zM810 340h2v2h-2zM821 340h3v2h-3zM838 340h2v2h-2zM841 340h5v2h-5zM849 340h3v2h-3zM857 340h2v2h-2zM866 340h2v2h-2zM873 340h10v2h-10zM885 340h3v2h-3zM889 340h6v2h-6zM897 340h2v2h-2zM925 340h2v2h-2zM931 340h7v2h-7zM939 340h9v2h-9zM954 340h4v2h-4zM774 347h3v3h-3zM807 347h2v3h-2zM814 347h3v3h-3zM818 347h3v3h-3zM839 347h3v3h-3zM848 347h2v3h-2zM863 347h2v3h-2zM869 347h2v3h-2zM882 347h3v3h-3zM926 347h4v3h-4zM959 347h2v3h-2zM578 355h4v2h-4zM725 355h4v2h-4zM802 355h3v2h-3zM811 355h3v2h-3zM820 355h3v2h-3zM851 355h3v2h-3zM864 355h3v2h-3zM872 355h2v2h-2zM883 355h6v2h-6zM919 355h7v2h-7zM581 362h4v3h-4zM588 362h9v3h-9zM717 362h2v3h-2zM792 362h3v3h-3zM860 362h2v3h-2zM904 362h4v3h-4zM913 362h7v3h-7zM922 362h2v3h-2zM584 370h5v2h-5zM612 370h2v2h-2zM619 370h9v2h-9zM631 370h2v2h-2zM634 370h7v2h-7zM643 370h2v2h-2zM663 370h3v2h-3zM678 370h9v2h-9zM688 370h24v2h-24zM715 370h11v2h-11zM812 370h3v2h-3zM823 370h3v2h-3zM852 370h3v2h-3zM861 370h3v2h-3zM970 370h3v2h-3zM984 370h4v2h-4zM990 370h2v2h-2z" fill="#f00"/>
</g>
</svg>
</body></html>
